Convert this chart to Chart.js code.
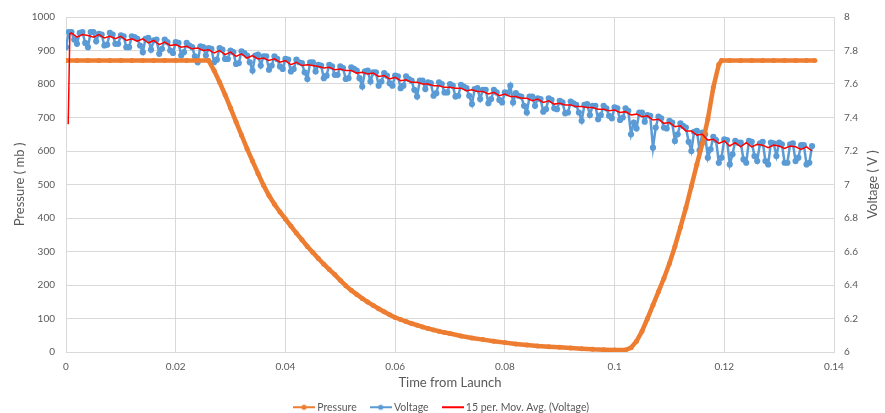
<!DOCTYPE html>
<html><head><meta charset="utf-8">
<script src="https://cdn.jsdelivr.net/npm/chart.js@4.4.1/dist/chart.umd.min.js"></script>
<style>html,body{margin:0;padding:0;background:#fff}</style>
</head><body>
<canvas id="c" width="885" height="413"></canvas>
<script>
// ---------- data ----------
const xTickValues = [0, 0.02, 0.04, 0.06, 0.08, 0.1, 0.12, 0.14];
const xTickLabels = ["0", "0.02", "0.04", "0.06", "0.08", "0.1", "0.12", "0.14"];
const pressureTickLabels = ["0","100","200","300","400","500","600","700","800","900","1000"];
const voltageTickLabels = ["6","6.2","6.4","6.6","6.8","7","7.2","7.4","7.6","7.8","8"];

const pressureTime = [0,0.002,0.004,0.006,0.008,0.010,0.012,0.014,0.016,0.018,0.020,0.022,0.024,0.026,
 0.027,0.028,0.029,0.030,0.031,0.032,0.033,0.034,0.035,0.036,0.037,0.038,0.039,0.040,
 0.041,0.042,0.043,0.044,0.045,0.046,0.047,0.048,0.049,0.050,0.051,0.052,0.053,0.054,0.055,
 0.056,0.057,0.058,0.059,0.060,0.061,0.062,0.063,0.064,0.065,0.066,0.067,0.068,0.069,0.070,
 0.072,0.074,0.076,0.078,0.080,0.082,0.084,0.086,0.088,0.090,0.092,0.094,0.096,0.098,0.100,0.102,
 0.103,0.104,0.105,0.106,0.107,0.108,0.109,0.110,0.111,0.112,0.113,0.114,0.115,0.116,0.117,0.118,0.119,0.1195,
 0.121,0.123,0.125,0.127,0.129,0.131,0.133,0.135,0.1365];
const pressureValues = [870,870,870,870,870,870,870,870,870,870,870,870,870,870,
 840,805,768,728,687,647,607,570,533,498,467,441,418,397,
 376,355,335,315,297,279,262,246,231,214,198,184,172,160,149,
 139,129,120,111,103,97,91,85,80,75,70,66,62,58,55,
 48,42,37,32,28,24,21,18,16,14,12,10,8,7,6,6,
 13,32,62,100,140,180,220,264,315,372,430,495,560,622,695,790,858,870,
 870,870,870,870,870,870,870,870,870];

// voltage samples on whole milliseconds
const voltageTime = [0,0.001,0.002,0.003,0.004,0.005,0.006,0.007,0.008,0.009,
 0.010,0.011,0.012,0.013,0.014,0.015,0.016,0.017,0.018,0.019,
 0.020,0.021,0.022,0.023,0.024,0.025,0.026,0.027,0.028,0.029,
 0.030,0.031,0.032,0.033,0.034,0.035,0.036,0.037,0.038,0.039,
 0.040,0.041,0.042,0.043,0.044,0.045,0.046,0.047,0.048,0.049,
 0.050,0.051,0.052,0.053,0.054,0.055,0.056,0.057,0.058,0.059,
 0.060,0.061,0.062,0.063,0.064,0.065,0.066,0.067,0.068,0.069,
 0.070,0.071,0.072,0.073,0.074,0.075,0.076,0.077,0.078,0.079,
 0.080,0.081,0.082,0.083,0.084,0.085,0.086,0.087,0.088,0.089,
 0.090,0.091,0.092,0.093,0.094,0.095,0.096,0.097,0.098,0.099,
 0.100,0.101,0.102,0.103,0.104,0.105,0.106,0.107,0.108,0.109,
 0.110,0.111,0.112,0.113,0.114,0.115,0.116,0.117,0.118,0.119,
 0.120,0.121,0.122,0.123,0.124,0.125,0.126,0.127,0.128,0.129,
 0.130,0.131,0.132,0.133,0.134,0.135,0.136];
const voltageValues = [7.82,7.91,7.84,7.91,7.82,7.91,7.90,7.83,7.905,7.84,
 7.89,7.82,7.885,7.87,7.79,7.875,7.86,7.78,7.865,7.80,
 7.85,7.77,7.845,7.82,7.73,7.82,7.815,7.73,7.815,7.75,
 7.80,7.72,7.795,7.77,7.68,7.775,7.765,7.685,7.765,7.705,
 7.75,7.675,7.745,7.725,7.63,7.73,7.715,7.635,7.715,7.655,
 7.705,7.63,7.70,7.68,7.585,7.68,7.67,7.59,7.665,7.605,
 7.65,7.575,7.645,7.62,7.525,7.62,7.61,7.53,7.61,7.55,
 7.60,7.525,7.595,7.575,7.48,7.575,7.565,7.485,7.565,7.505,
 7.55,7.59,7.545,7.525,7.43,7.525,7.515,7.435,7.515,7.455,
 7.50,7.425,7.495,7.475,7.38,7.48,7.47,7.39,7.47,7.41,
 7.46,7.385,7.455,7.30,7.335,7.43,7.415,7.22,7.405,7.34,
 7.38,7.26,7.365,7.34,7.20,7.32,7.31,7.16,7.285,7.13,
 7.27,7.12,7.26,7.25,7.13,7.255,7.14,7.255,7.12,7.245,
 7.25,7.13,7.24,7.14,7.235,7.12,7.23];
// voltage samples between them (half milliseconds)
const voltageMidTime = [0.0005,0.0015,0.0025,0.0035,0.0045,0.0055,0.0065,0.0075,0.0085,0.0095,
 0.0105,0.0115,0.0125,0.0135,0.0145,0.0155,0.0165,0.0175,0.0185,0.0195,
 0.0205,0.0215,0.0225,0.0235,0.0245,0.0255,0.0265,0.0275,0.0285,0.0295,
 0.0305,0.0315,0.0325,0.0335,0.0345,0.0355,0.0365,0.0375,0.0385,0.0395,
 0.0405,0.0415,0.0425,0.0435,0.0445,0.0455,0.0465,0.0475,0.0485,0.0495,
 0.0505,0.0515,0.0525,0.0535,0.0545,0.0555,0.0565,0.0575,0.0585,0.0595,
 0.0605,0.0615,0.0625,0.0635,0.0645,0.0655,0.0665,0.0675,0.0685,0.0695,
 0.0705,0.0715,0.0725,0.0735,0.0745,0.0755,0.0765,0.0775,0.0785,0.0795,
 0.0805,0.0815,0.0825,0.0835,0.0845,0.0855,0.0865,0.0875,0.0885,0.0895,
 0.0905,0.0915,0.0925,0.0935,0.0945,0.0955,0.0965,0.0975,0.0985,0.0995,
 0.1005,0.1015,0.1025,0.1035,0.1045,0.1055,0.1065,0.1075,0.1085,0.1095,
 0.1105,0.1115,0.1125,0.1135,0.1145,0.1155,0.1165,0.1175,0.1185,0.1195,
 0.1205,0.1215,0.1225,0.1235,0.1245,0.1255,0.1265,0.1275,0.1285,0.1295,
 0.1305,0.1315,0.1325,0.1335,0.1345,0.1355];
const voltageMidValues = [7.91,7.865,7.905,7.845,7.91,7.855,7.895,7.835,7.895,7.84,
 7.885,7.82,7.88,7.83,7.87,7.805,7.865,7.81,7.85,7.785,
 7.845,7.79,7.83,7.765,7.825,7.77,7.81,7.745,7.805,7.75,
 7.79,7.725,7.785,7.73,7.77,7.71,7.765,7.71,7.75,7.69,
 7.745,7.69,7.73,7.67,7.73,7.675,7.71,7.65,7.705,7.655,
 7.695,7.635,7.69,7.635,7.675,7.615,7.67,7.615,7.65,7.59,
 7.645,7.59,7.63,7.565,7.62,7.57,7.605,7.545,7.60,7.55,
 7.59,7.53,7.585,7.53,7.57,7.51,7.565,7.51,7.55,7.49,
 7.545,7.49,7.53,7.47,7.525,7.47,7.51,7.45,7.505,7.45,
 7.49,7.43,7.485,7.43,7.475,7.415,7.47,7.415,7.455,7.395,
 7.455,7.40,7.44,7.37,7.43,7.375,7.41,7.34,7.395,7.335,
 7.37,7.30,7.35,7.255,7.315,7.205,7.30,7.21,7.265,7.16,
 7.265,7.18,7.25,7.15,7.26,7.17,7.245,7.14,7.25,7.17,
 7.24,7.13,7.245,7.16,7.235,7.13];

const movAvgTime = [0.0004,0.0007,0.001,0.002,0.003,0.004,0.005,0.006,0.007,0.008,0.009,
 0.010,0.011,0.012,0.013,0.014,0.015,0.016,0.017,0.018,0.019,
 0.020,0.021,0.022,0.023,0.024,0.025,0.026,0.027,0.028,0.029,
 0.030,0.031,0.032,0.033,0.034,0.035,0.036,0.037,0.038,0.039,
 0.040,0.041,0.042,0.043,0.044,0.045,0.046,0.047,0.048,0.049,
 0.050,0.051,0.052,0.053,0.054,0.055,0.056,0.057,0.058,0.059,
 0.060,0.061,0.062,0.063,0.064,0.065,0.066,0.067,0.068,0.069,
 0.070,0.071,0.072,0.073,0.074,0.075,0.076,0.077,0.078,0.079,
 0.080,0.081,0.082,0.083,0.084,0.085,0.086,0.087,0.088,0.089,
 0.090,0.091,0.092,0.093,0.094,0.095,0.096,0.097,0.098,0.099,
 0.100,0.101,0.102,0.103,0.104,0.105,0.106,0.107,0.108,0.109,
 0.110,0.111,0.112,0.113,0.114,0.115,0.116,0.117,0.118,0.119,
 0.120,0.121,0.122,0.123,0.124,0.125,0.126,0.127,0.128,0.129,
 0.130,0.131,0.132,0.133,0.134,0.135,0.136];
const movAvgValues = [7.36,7.90,7.905,7.88,7.895,7.89,7.88,7.895,7.875,7.885,7.87,
 7.885,7.86,7.87,7.855,7.87,7.845,7.86,7.835,7.85,7.83,
 7.835,7.82,7.825,7.81,7.815,7.80,7.805,7.785,7.80,7.775,
 7.79,7.765,7.78,7.755,7.77,7.75,7.755,7.74,7.75,7.73,
 7.74,7.715,7.73,7.71,7.715,7.71,7.705,7.695,7.70,7.685,
 7.69,7.68,7.68,7.665,7.67,7.66,7.665,7.645,7.65,7.63,
 7.64,7.62,7.625,7.61,7.61,7.60,7.60,7.59,7.59,7.58,
 7.58,7.575,7.575,7.56,7.565,7.555,7.555,7.54,7.55,7.53,
 7.54,7.525,7.525,7.515,7.515,7.50,7.51,7.49,7.50,7.48,
 7.485,7.475,7.475,7.465,7.465,7.46,7.46,7.45,7.45,7.44,
 7.445,7.43,7.435,7.415,7.42,7.405,7.41,7.385,7.39,7.365,
 7.37,7.345,7.35,7.32,7.32,7.295,7.30,7.265,7.27,7.245,
 7.26,7.23,7.25,7.225,7.25,7.225,7.24,7.235,7.22,7.235,
 7.23,7.215,7.23,7.225,7.21,7.225,7.20];

// ---------- styling ----------
const ORANGE = '#ED7D31', BLUE = '#5B9BD5', RED = '#FF0000';
const TXT = '#595959', GRID = '#D9D9D9', FONT = 'Lato, "Open Sans", sans-serif';

function legendMarker(color, dot) {
  const cv = document.createElement('canvas');
  cv.width = 22; cv.height = 8;
  const g = cv.getContext('2d');
  g.strokeStyle = color; g.lineWidth = 2;
  g.beginPath(); g.moveTo(0, 4); g.lineTo(22, 4); g.stroke();
  if (dot) { g.fillStyle = color; g.beginPath(); g.arc(11, 4, 2.6, 0, Math.PI * 2); g.fill(); }
  return cv;
}
const markers = [legendMarker(ORANGE, true), legendMarker(BLUE, true), legendMarker(RED, false)];

const toXY = (xs, ys) => xs.map((x, i) => ({x: x, y: ys[i]}));
// interleave whole-ms and half-ms voltage samples in time order
const voltagePoints = [];
voltageTime.forEach((t, i) => {
  voltagePoints.push({x: t, y: voltageValues[i]});
  if (i < voltageMidTime.length) voltagePoints.push({x: voltageMidTime[i], y: voltageMidValues[i]});
});

const rightTitle = {
  id: 'rightTitle',
  afterDraw(chart) {
    const s = chart.scales.yV, ctx = chart.ctx;
    ctx.save();
    ctx.translate(873, (s.top + s.bottom) / 2);
    ctx.rotate(-Math.PI / 2);
    ctx.font = '13px ' + FONT;
    ctx.fillStyle = TXT;
    ctx.textAlign = 'center';
    ctx.textBaseline = 'middle';
    ctx.fillText('Voltage ( V )', 0, 0);
    ctx.restore();
  }
};
const legendShift = {
  id: 'legendShift',
  afterLayout(chart) {
    const lg = chart.legend;
    lg.top = 386; lg.height = 30; lg.bottom = lg.top + lg.height;
  }
};

new Chart(document.getElementById('c'), {
  type: 'line',
  data: {
    datasets: [
      { label: 'Pressure', data: toXY(pressureTime, pressureValues), yAxisID: 'yP',
        borderColor: ORANGE, backgroundColor: ORANGE, borderWidth: 4.5,
        pointRadius: 2.5, pointBorderWidth: 0, pointBackgroundColor: ORANGE, tension: 0, order: 1 },
      { label: 'Voltage', data: voltagePoints, yAxisID: 'yV',
        borderColor: BLUE, backgroundColor: BLUE, borderWidth: 2.5,
        pointRadius: 3.1, pointBorderWidth: 0, pointBackgroundColor: BLUE, tension: 0, order: 2 },
      { label: '15 per. Mov. Avg. (Voltage)', data: toXY(movAvgTime, movAvgValues), yAxisID: 'yV',
        borderColor: RED, backgroundColor: RED, borderWidth: 1.5,
        pointRadius: 0, tension: 0, order: 0 }
    ]
  },
  options: {
    responsive: false,
    animation: false,
    layout: { padding: { top: 13, left: 0, right: 0, bottom: 0 } },
    plugins: {
      tooltip: { enabled: false },
      legend: {
        position: 'bottom',
        maxHeight: 10,
        labels: {
          usePointStyle: true, pointStyleWidth: 16, padding: 16,
          color: TXT, font: { family: FONT, size: 10.5 },
          generateLabels: () => [0, 1, 2].map(i => ({
            text: ['Pressure', 'Voltage', '15 per. Mov. Avg. (Voltage)'][i],
            pointStyle: markers[i], fillStyle: 'transparent', strokeStyle: 'transparent',
            lineWidth: 0, hidden: false, datasetIndex: i, fontColor: TXT
          }))
        }
      }
    },
    scales: {
      x: {
        type: 'linear', min: 0, max: 0.14,
        afterBuildTicks: s => { s.ticks = xTickValues.map(v => ({value: v})); },
        ticks: { color: TXT, font: { family: FONT, size: 10 }, padding: 9,
                 callback: (v, i) => xTickLabels[i] },
        grid: { color: GRID, drawTicks: false },
        border: { color: GRID },
        title: { display: true, text: 'Time from Launch', color: TXT,
                 font: { family: FONT, size: 13 }, padding: { top: 0, bottom: 12 } },
        afterFit: s => { s.height = 51; }
      },
      yP: {
        type: 'linear', position: 'left', min: 0, max: 1000,
        ticks: { stepSize: 100, color: TXT, font: { family: FONT, size: 10 }, padding: 11,
                 callback: (v, i) => pressureTickLabels[i] },
        grid: { color: GRID, drawTicks: false },
        border: { color: GRID },
        title: { display: true, text: 'Pressure ( mb )', color: TXT,
                 font: { family: FONT, size: 13 }, padding: { top: 12, bottom: 0 } },
        afterFit: s => { s.width = 66; }
      },
      yV: {
        type: 'linear', position: 'right', min: 6, max: 8,
        ticks: { stepSize: 0.2, color: TXT, font: { family: FONT, size: 10 }, padding: 10,
                 callback: (v, i) => voltageTickLabels[i] },
        grid: { drawOnChartArea: false, drawTicks: false },
        border: { color: GRID },
        afterFit: s => { s.width = 51; }
      }
    }
  },
  plugins: [rightTitle, legendShift]
});
</script>
</body></html>
